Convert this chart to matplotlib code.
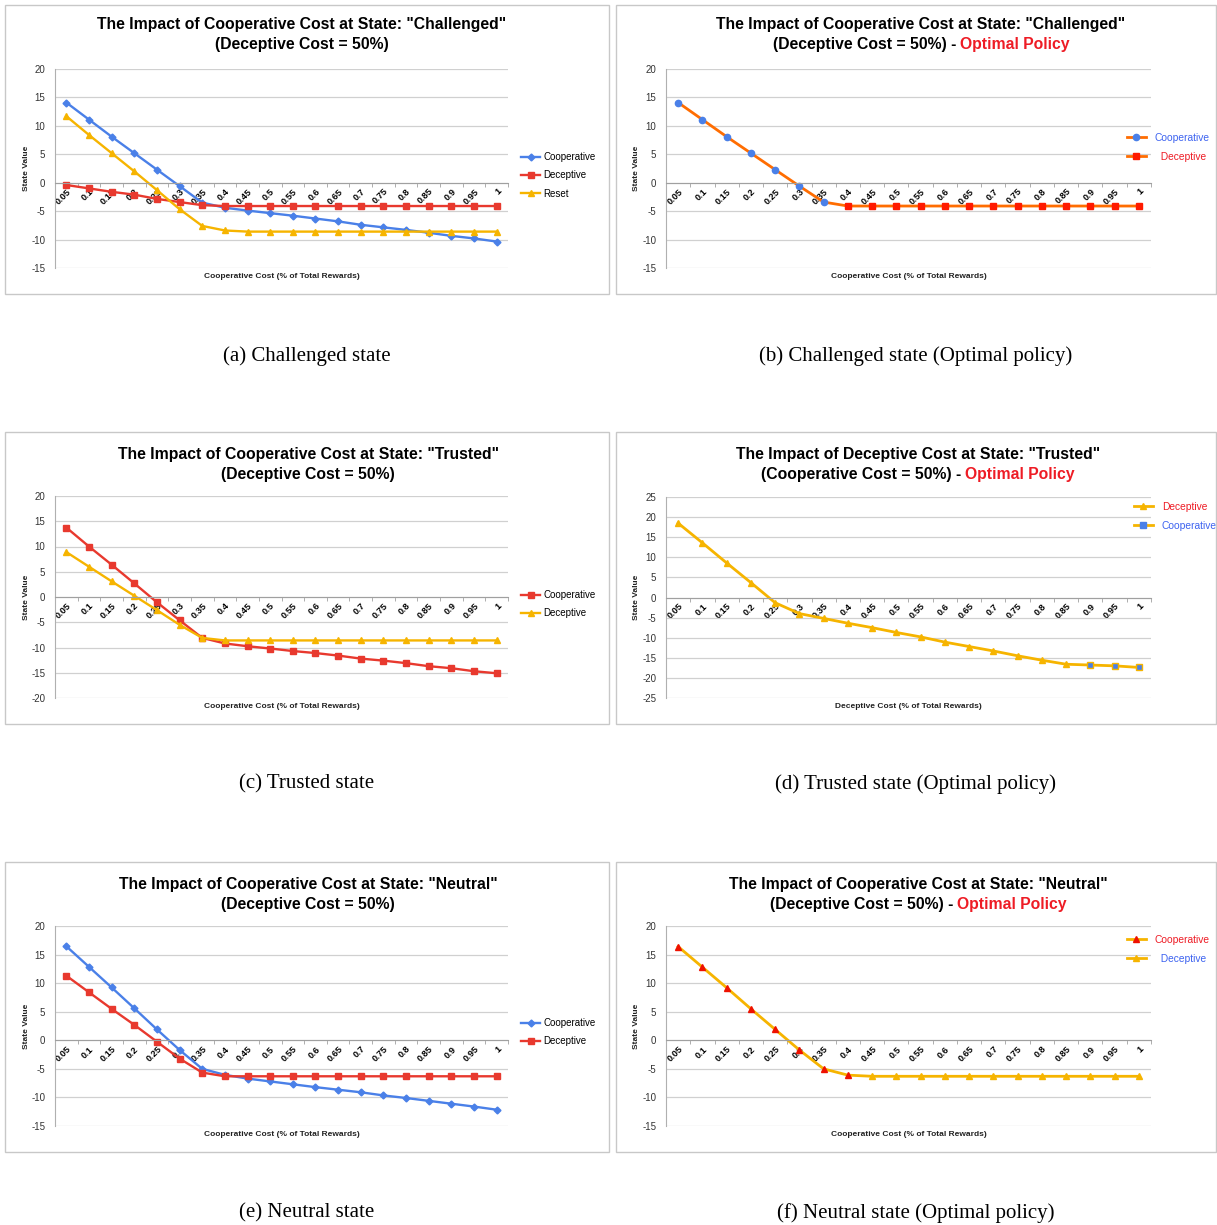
import numpy as np
import matplotlib.pyplot as plt
import matplotlib.transforms as mtransforms
from matplotlib.lines import Line2D
from matplotlib.patches import Rectangle

W, H = 1217, 1225

# x categories (cost as fraction of total rewards)
costs = ["0.05", "0.1", "0.15", "0.2", "0.25", "0.3", "0.35", "0.4", "0.45", "0.5",
         "0.55", "0.6", "0.65", "0.7", "0.75", "0.8", "0.85", "0.9", "0.95", "1"]

# (a) Challenged state
chal_coop = [14.1, 11.1, 8.1, 5.2, 2.3, -0.6, -3.5, -4.4, -4.9, -5.35,
             -5.8, -6.3, -6.8, -7.4, -7.85, -8.3, -8.8, -9.35, -9.8, -10.35]
chal_decep = [-0.4, -1.0, -1.6, -2.1, -2.85, -3.4, -3.95, -4.1, -4.1, -4.1,
              -4.1, -4.1, -4.1, -4.1, -4.1, -4.1, -4.1, -4.1, -4.1, -4.1]
chal_reset = [11.7, 8.4, 5.2, 2.0, -1.3, -4.65, -7.6, -8.4, -8.6, -8.6,
              -8.6, -8.6, -8.6, -8.6, -8.6, -8.6, -8.6, -8.6, -8.6, -8.6]

# (b) Challenged state, optimal policy
chal_opt = [14.1, 11.1, 8.1, 5.2, 2.3, -0.6, -3.4, -4.1, -4.1, -4.1,
            -4.1, -4.1, -4.1, -4.1, -4.1, -4.1, -4.1, -4.1, -4.1, -4.1]
chal_act = ["C", "C", "C", "C", "C", "C", "C", "D", "D", "D",
            "D", "D", "D", "D", "D", "D", "D", "D", "D", "D"]

# (c) Trusted state
trust_coop = [13.75, 10.0, 6.4, 2.7, -1.05, -4.6, -8.1, -9.2, -9.75, -10.2,
              -10.7, -11.1, -11.6, -12.2, -12.6, -13.1, -13.7, -14.1, -14.7, -15.1]
trust_decep = [8.9, 6.0, 3.1, 0.25, -2.6, -5.5, -8.1, -8.6, -8.6, -8.6,
               -8.6, -8.6, -8.6, -8.6, -8.6, -8.6, -8.6, -8.6, -8.6, -8.6]

# (d) Trusted state, optimal policy (x = deceptive cost)
trust_opt = [18.5, 13.6, 8.6, 3.7, -1.3, -4.0, -5.2, -6.4, -7.5, -8.7,
             -9.8, -11.1, -12.2, -13.3, -14.5, -15.6, -16.6, -16.8, -17.0, -17.4]
trust_act = ["D", "D", "D", "D", "D", "D", "D", "D", "D", "D",
             "D", "D", "D", "D", "D", "D", "D", "C", "C", "C"]

# (e) Neutral state
neut_coop = [16.45, 12.85, 9.25, 5.6, 1.9, -1.7, -5.0, -6.05, -6.7, -7.2,
             -7.7, -8.2, -8.65, -9.1, -9.65, -10.1, -10.6, -11.1, -11.6, -12.15]
neut_decep = [11.3, 8.4, 5.5, 2.7, -0.25, -3.2, -5.65, -6.3, -6.3, -6.3,
              -6.3, -6.3, -6.3, -6.3, -6.3, -6.3, -6.3, -6.3, -6.3, -6.3]

# (f) Neutral state, optimal policy
neut_opt = [16.4, 12.8, 9.2, 5.5, 1.9, -1.7, -5.0, -6.1, -6.3, -6.3,
            -6.3, -6.3, -6.3, -6.3, -6.3, -6.3, -6.3, -6.3, -6.3, -6.3]
neut_act = ["C", "C", "C", "C", "C", "C", "C", "C", "D", "D",
            "D", "D", "D", "D", "D", "D", "D", "D", "D", "D"]

BLUE = "#4a80e8"
RED = "#e8392e"
YELLOW = "#f6b400"
ORANGE = "#ff6d01"
TXT_BLUE = "#3d63f0"
TXT_RED = "#ee1c25"

plt.rcParams["font.family"] = ["Liberation Sans", "DejaVu Sans"]
plt.rcParams["axes.unicode_minus"] = False

fig = plt.figure(figsize=(W / 100, H / 100), dpi=100)
x = np.arange(len(costs))


def fx(px):
    return px / W


def fy(py):
    return 1 - py / H


def make_axes(left, right, top, bottom, ymin, ymax, xlabel, box, cap, cap_y):
    # panel frame
    bx0, by0, bx1, by1 = box
    fig.patches.append(Rectangle((fx(bx0), fy(by1)), fx(bx1 - bx0), (by1 - by0) / H,
                                 transform=fig.transFigure, fill=False,
                                 edgecolor="#c8c8c8", lw=1))
    ax = fig.add_axes([fx(left), fy(bottom), fx(right - left), (bottom - top) / H])
    ax.set_xlim(-0.5, len(costs) - 0.5)
    ax.set_ylim(ymin, ymax)
    ax.set_yticks(np.arange(ymin, ymax + 1, 5))
    ax.yaxis.grid(True, color="#d0d0d0", lw=0.9)
    ax.set_axisbelow(True)
    ax.patch.set_alpha(0)
    for s in ["top", "right"]:
        ax.spines[s].set_visible(False)
    ax.spines["left"].set_color("#b0b0b0")
    ax.spines["bottom"].set_position(("data", 0))
    ax.spines["bottom"].set_color("#a0a0a0")
    ax.set_xticks(x)
    ax.set_xticklabels(costs, rotation=45, ha="right", va="top",
                       rotation_mode="anchor", fontsize=6.6, fontweight="bold")
    offset = mtransforms.ScaledTranslation(6 / 100, 0, fig.dpi_scale_trans)
    for lab in ax.get_xticklabels():
        lab.set_transform(lab.get_transform() + offset)
    ax.tick_params(axis="x", which="major", length=0, pad=3)
    ax.set_xticks(np.arange(-0.5, len(costs)), minor=True)
    ax.tick_params(axis="x", which="minor", length=3, color="#a0a0a0")
    ax.tick_params(axis="y", length=0, labelsize=7, labelcolor="#333333", pad=7)
    xc = (left + right) / 2
    fig.text(fx(xc), fy(bottom + 8), xlabel, ha="center", va="center",
             fontsize=6, fontweight="bold", color="#222222")
    fig.text(fx(left - 29), fy((top + bottom) / 2), "State Value", rotation=90,
             ha="center", va="center", fontsize=6, fontweight="bold", color="#222222")
    fig.text(fx((bx0 + bx1) / 2), fy(cap_y), cap, ha="center", va="center",
             fontsize=15, family="Liberation Serif")
    return ax


def title(xc, y1, y2, line1, line2, red=None):
    fs = 11.3
    fig.text(fx(xc), fy(y1), line1, ha="center", va="center",
             fontsize=fs, fontweight="bold")
    if red is None:
        fig.text(fx(xc), fy(y2), line2, ha="center", va="center",
                 fontsize=fs, fontweight="bold")
        return
    t1 = fig.text(0, fy(y2), line2, ha="left", va="center", fontsize=fs, fontweight="bold")
    t2 = fig.text(0, fy(y2), red, ha="left", va="center", fontsize=fs,
                  fontweight="bold", color=TXT_RED)
    r = fig.canvas.get_renderer()
    w1 = t1.get_window_extent(r).width
    w2 = t2.get_window_extent(r).width
    gap = 4
    x0 = xc - (w1 + gap + w2) / 2
    t1.set_x(fx(x0))
    t2.set_x(fx(x0 + w1 + gap))


def legend(ax, handles, labels, lx, ly, colors=None, tpad=0.3, hl=2.0, fs=7):
    leg = ax.legend(handles, labels, loc="upper left",
                    bbox_to_anchor=(fx(lx), fy(ly)), bbox_transform=fig.transFigure,
                    frameon=False, fontsize=fs, handlelength=hl,
                    handletextpad=tpad, labelspacing=0.85, borderpad=0, borderaxespad=0)
    if colors:
        for t, c in zip(leg.get_texts(), colors):
            t.set_color(c)


def mask(acts, a):
    return np.array([v == a for v in acts])


# ---------- (a) ----------
ax = make_axes(55, 508, 69, 268, -15, 20, "Cooperative Cost (% of Total Rewards)",
               (5, 5, 609, 294), "(a) Challenged state", 356)
title(302, 25, 45, 'The Impact of Cooperative Cost at State: "Challenged"',
      "(Deceptive Cost = 50%)")
l1, = ax.plot(x, chal_coop, color=BLUE, lw=1.7, marker="D", ms=3.5)
l2, = ax.plot(x, chal_decep, color=RED, lw=1.7, marker="s", ms=4.5)
l3, = ax.plot(x, chal_reset, color=YELLOW, lw=1.7, marker="^", ms=4.5)
legend(ax, [l1, l2, l3], ["Cooperative", "Deceptive", "Reset"], 521, 152)

# ---------- (b) ----------
ax = make_axes(666, 1151, 69, 268, -15, 20, "Cooperative Cost (% of Total Rewards)",
               (616, 5, 1216, 294), "(b) Challenged state (Optimal policy)", 356)
title(921, 25, 45, 'The Impact of Cooperative Cost at State: "Challenged"',
      "(Deceptive Cost = 50%) -", "Optimal Policy")
ax.plot(x, chal_opt, color=ORANGE, lw=2)
m = mask(chal_act, "C")
ax.plot(x[m], np.array(chal_opt)[m], ls="none", marker="o", ms=4.5, color=BLUE)
m = mask(chal_act, "D")
ax.plot(x[m], np.array(chal_opt)[m], ls="none", marker="s", ms=4.5, color="#ff1a00")
h1 = Line2D([], [], color=ORANGE, lw=2, marker="o", ms=4.5, mfc=BLUE, mec=BLUE)
h2 = Line2D([], [], color=ORANGE, lw=2, marker="s", ms=4.5, mfc="#ff1a00", mec="#ff1a00")
legend(ax, [h1, h2], ["Cooperative", "  Deceptive"], 1127, 133,
       colors=[TXT_BLUE, TXT_RED], tpad=0.9, hl=1.8, fs=7.4)

# ---------- (c) ----------
ax = make_axes(55, 508, 496, 698, -20, 20, "Cooperative Cost (% of Total Rewards)",
               (5, 432, 609, 724), "(c) Trusted state", 784)
title(308, 454, 474, 'The Impact of Cooperative Cost at State: "Trusted"',
      "(Deceptive Cost = 50%)")
l1, = ax.plot(x, trust_coop, color=RED, lw=1.7, marker="s", ms=4.5)
l2, = ax.plot(x, trust_decep, color=YELLOW, lw=1.7, marker="^", ms=4.5)
legend(ax, [l1, l2], ["Cooperative", "Deceptive"], 521, 590)

# ---------- (d) ----------
ax = make_axes(666, 1151, 497, 698, -25, 25, "Deceptive Cost (% of Total Rewards)",
               (616, 432, 1216, 724), "(d) Trusted state (Optimal policy)", 784)
title(918, 454, 474, 'The Impact of Deceptive Cost at State: "Trusted"',
      "(Cooperative Cost = 50%) -", "Optimal Policy")
ax.plot(x, trust_opt, color=YELLOW, lw=2)
m = mask(trust_act, "D")
ax.plot(x[m], np.array(trust_opt)[m], ls="none", marker="^", ms=4.5, color=YELLOW)
m = mask(trust_act, "C")
ax.plot(x[m], np.array(trust_opt)[m], ls="none", marker="s", ms=5, mfc=BLUE, mec=YELLOW)
h1 = Line2D([], [], color=YELLOW, lw=2, marker="^", ms=4.5)
h2 = Line2D([], [], color=YELLOW, lw=2, marker="s", ms=4.5, mfc=BLUE, mec=BLUE)
legend(ax, [h1, h2], ["Deceptive", "Cooperative"], 1134, 502,
       colors=[TXT_RED, TXT_BLUE], tpad=0.9, hl=1.8, fs=7.4)

# ---------- (e) ----------
ax = make_axes(55, 508, 926, 1126, -15, 20, "Cooperative Cost (% of Total Rewards)",
               (5, 862, 609, 1152), "(e) Neutral state", 1213)
title(308, 884, 904, 'The Impact of Cooperative Cost at State: "Neutral"',
      "(Deceptive Cost = 50%)")
l1, = ax.plot(x, neut_coop, color=BLUE, lw=1.7, marker="D", ms=3.5)
l2, = ax.plot(x, neut_decep, color=RED, lw=1.7, marker="s", ms=4.5)
legend(ax, [l1, l2], ["Cooperative", "Deceptive"], 521, 1018)

# ---------- (f) ----------
ax = make_axes(666, 1151, 926, 1126, -15, 20, "Cooperative Cost (% of Total Rewards)",
               (616, 862, 1216, 1152), "(f) Neutral state (Optimal policy)", 1213)
title(918, 884, 904, 'The Impact of Cooperative Cost at State: "Neutral"',
      "(Deceptive Cost = 50%) -", "Optimal Policy")
ax.plot(x, neut_opt, color=YELLOW, lw=2)
m = mask(neut_act, "C")
ax.plot(x[m], np.array(neut_opt)[m], ls="none", marker="^", ms=4.5, color="#ee1100")
m = mask(neut_act, "D")
ax.plot(x[m], np.array(neut_opt)[m], ls="none", marker="^", ms=4.5, color=YELLOW)
h1 = Line2D([], [], color=YELLOW, lw=2, marker="^", ms=4.5, mfc="#ee1100", mec="#ee1100")
h2 = Line2D([], [], color=YELLOW, lw=2, marker="^", ms=4.5)
legend(ax, [h1, h2], ["Cooperative", "  Deceptive"], 1127, 935,
       colors=[TXT_RED, TXT_BLUE], tpad=0.9, hl=1.8, fs=7.4)

fig.savefig("out.png", dpi=100)
